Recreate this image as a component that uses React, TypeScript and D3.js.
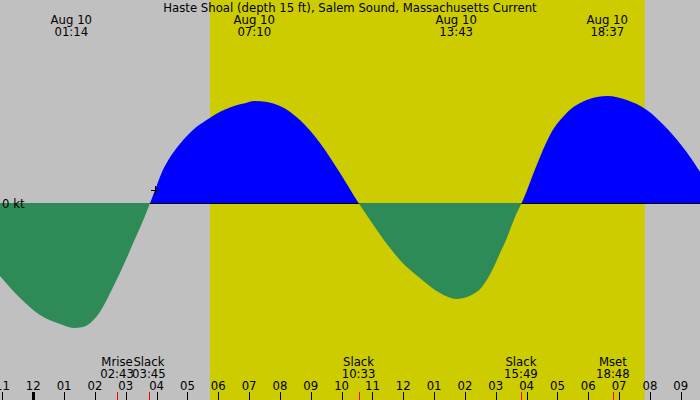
import React from "react";
import * as d3 from "d3";

const title = "Haste Shoal (depth 15 ft), Salem Sound, Massachusetts Current";
const dateLabel = "Aug 10";

// current: hours after midnight Aug 10, knots (+ flood, - ebb)
const sampleHours = [
  -1.08, -0.43, 0.22, 0.87, 1.3, 1.62, 1.95, 2.16, 2.38, 2.59, 2.81, 3.03, 3.24, 3.43,
  3.79, 3.95, 4.16, 4.38, 4.6, 4.92, 5.25, 5.57, 5.9, 6.22, 6.54, 6.87, 7.17, 7.58,
  8.0, 8.65, 9.3, 9.95, 10.55, 10.92, 11.57, 11.89, 12.54, 13.19, 13.72, 14.38, 14.71,
  14.92, 15.14, 15.36, 15.46, 15.68, 15.84, 16.33, 16.76, 17.3, 17.95, 18.62, 19.25,
  19.9, 20.54, 21.19, 21.63,
];
const sampleKnots = [
  -0.73, -0.95, -1.12, -1.21, -1.25, -1.24, -1.17, -1.09, -0.97, -0.84, -0.7, -0.55, -0.4, -0.27,
  0, 0.13, 0.3, 0.43, 0.53, 0.65, 0.75, 0.82, 0.886, 0.936, 0.973, 0.997, 1.02, 1.01,
  0.97, 0.83, 0.6, 0.3, 0, -0.17, -0.45, -0.57, -0.75, -0.9, -0.96, -0.89, -0.77,
  -0.65, -0.5, -0.35, -0.27, -0.1, 0, 0.38, 0.68, 0.9, 1.03, 1.07, 1.03,
  0.93, 0.75, 0.51, 0.31,
];

// max flood / ebb times (top labels)
const peakTimes = ["01:14", "07:10", "13:43", "18:37"];

// bottom events (moon + slack water)
const eventNames = ["Mrise", "Slack", "Slack", "Slack", "Mset"];
const eventTimes = ["02:43", "03:45", "10:33", "15:49", "18:48"];

// hour axis
const hourValues = [-1, 0, 1, 2, 3, 4, 5, 6, 7, 8, 9, 10, 11, 12, 13, 14, 15, 16, 17, 18, 19, 20, 21];
const hourLabels = ["11", "12", "01", "02", "03", "04", "05", "06", "07", "08", "09", "10",
  "11", "12", "01", "02", "03", "04", "05", "06", "07", "08", "09"];

const sunrise = "05:44";
const sunset = "19:50";

// little cross on the curve
const markerHour = 3.95;
const markerKnots = 0.13;

const toHours = (s: string) => {
  const [h, m] = s.split(":").map(Number);
  return h + m / 60;
};

const W = 700;
const H = 400;
const font = "'DejaVu Sans', sans-serif";

const App = () => {
  const x = d3.scaleLinear().domain([-1.08, 21.625]).range([0, W]);
  const y = d3.scaleLinear().domain([-1.5, 1.5]).range([353, 53]);
  const y0 = y(0);

  const pts: [number, number][] = sampleHours.map((h, i) => [h, sampleKnots[i]]);
  const area = d3.area<[number, number]>()
    .x(d => x(d[0]))
    .y0(y0)
    .y1(d => y(d[1]))
    .curve(d3.curveMonotoneX);
  const areaPath = area(pts) || "";

  const xr = x(toHours(sunrise));
  const xs = x(toHours(sunset));
  const mx = Math.round(x(markerHour));
  const my = Math.round(y(markerKnots));

  return (
    <div style={{ position: "absolute", left: 0, top: 0 }}>
      <svg width={W} height={H} style={{ display: "block" }} fontFamily={font} fontSize={11.7}>
        <defs>
          <clipPath id="above"><rect x={0} y={0} width={W} height={y0} /></clipPath>
          <clipPath id="below"><rect x={0} y={y0} width={W} height={H - y0} /></clipPath>
        </defs>
        <rect x={0} y={0} width={W} height={H} fill="#c0c0c0" />
        <rect x={xr} y={0} width={xs - xr} height={H} fill="#cccc00" />

        <path d={areaPath} fill="#0000ff" clipPath="url(#above)" />
        <line x1={0} x2={W} y1={y0 + 0.5} y2={y0 + 0.5} stroke="#000" strokeWidth={1} />
        <path d={areaPath} fill="#2e8b57" clipPath="url(#below)" />

        <g stroke="#000" strokeWidth={1}>
          <line x1={mx - 4} x2={mx + 5} y1={my + 0.5} y2={my + 0.5} />
          <line x1={mx + 0.5} x2={mx + 0.5} y1={my - 4} y2={my + 5} />
        </g>

        <text x={2} y={208} fill="#000">0 kt</text>

        <text x={W / 2} y={12} textAnchor="middle" fill="#000">{title}</text>
        {peakTimes.map((t, i) => (
          <g key={i} textAnchor="middle" fill="#000">
            <text x={x(toHours(t))} y={24}>{dateLabel}</text>
            <text x={x(toHours(t))} y={36}>{t}</text>
          </g>
        ))}

        {eventTimes.map((t, i) => (
          <g key={i}>
            <text x={x(toHours(t))} y={366} textAnchor="middle" fill="#000">{eventNames[i]}</text>
            <text x={x(toHours(t))} y={378} textAnchor="middle" fill="#000">{t}</text>
            <line x1={Math.round(x(toHours(t))) + 0.5} x2={Math.round(x(toHours(t))) + 0.5}
              y1={392} y2={H} stroke="#ff0000" />
          </g>
        ))}

        {hourValues.map((h, i) => (
          <g key={i}>
            <text x={x(h)} y={390} textAnchor="middle" fill="#000">{hourLabels[i]}</text>
            <line x1={Math.round(x(h)) + 0.5} x2={Math.round(x(h)) + 0.5} y1={392} y2={H}
              stroke="#000" strokeWidth={h === 0 ? 3 : 1} />
          </g>
        ))}
      </svg>
    </div>
  );
};

export default App;
